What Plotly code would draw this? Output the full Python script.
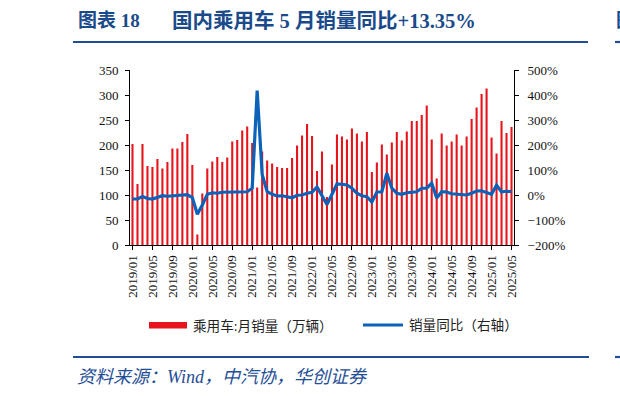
import plotly.graph_objects as go

months = [f"{y}/{m:02d}" for y in range(2019, 2026) for m in range(1, 13)][:77]

sales = [
    202, 122, 202, 158, 156, 172, 153, 166, 193, 193, 206, 222,   # 2019
    160, 21, 103, 153, 167, 176, 166, 175, 207, 210, 229, 237,    # 2020
    204, 115, 187, 169, 163, 156, 154, 154, 174, 199, 219, 242,   # 2021
    218, 148, 187, 96, 161, 221, 217, 211, 233, 223, 207, 226,    # 2022
    146, 165, 201, 181, 205, 226, 209, 227, 248, 248, 260, 279,   # 2023
    211, 133, 223, 199, 207, 221, 199, 217, 252, 275, 302, 313,   # 2024
    215, 183, 248, 224, 236,                                      # 2025
]

yoy = [
    -16, -16, -6, -14, -16, -8, -3, -5, -4, -3, -1, 1,
    -10, -77, -40, 3, 9, 7, 11, 11, 12, 12, 13, 13,
    27, 418, 82, 13, 3, -4, -3, -7, -11, -1, 0, 7,
    11, 32, 0, -38, 3, 44, 43, 40, 27, 7, -3, -7,
    -28, 12, 12, 87, 27, 7, 3, 9, 11, 13, 27, 27,
    47, -12, 13, 12, 5, 3, -1, 0, 7, 16, 17, 9,
    3, 39, 13, 15, 13.35,
]

tick_labels = months[::4]

W, H = 620, 397
L, R, T, B = 130, 514, 70, 245
PW, PH = R - L, B - T


def px(x):
    return (x - L) / PW


def py(y):
    return (B - y) / PH


BLUE_T = "#1A4A8A"
LINE_C = "#1F4E96"
SERIF = "Liberation Serif, Times New Roman, Noto Sans CJK SC"

fig = go.Figure()
fig.add_trace(go.Bar(
    x=months, y=sales, name="乘用车:月销量（万辆）",
    marker=dict(color="#E8141B", line=dict(width=0)),
    yaxis="y", showlegend=False, hoverinfo="skip",
))
fig.add_trace(go.Scatter(
    x=months, y=yoy, name="销量同比（右轴）", mode="lines",
    line=dict(color="#0B62B8", width=3.2),
    yaxis="y2", showlegend=False, hoverinfo="skip",
))

axis_font = dict(family=SERIF, size=13, color="#111")

fig.update_layout(
    width=W, height=H,
    margin=dict(l=L, r=W - R, t=T, b=H - B),
    paper_bgcolor="white", plot_bgcolor="white",
    bargap=0.58,
    showlegend=False,
    hovermode=False,
    xaxis=dict(
        type="category", range=[-0.5, 76.5],
        tickmode="array", tickvals=tick_labels, ticktext=tick_labels,
        tickangle=-90, tickfont=axis_font,
        showline=True, linecolor="#000", linewidth=1,
        ticks="outside", ticklen=4, tickcolor="#000",
        showgrid=False, zeroline=False,
    ),
    yaxis=dict(
        range=[0, 350], dtick=50, tick0=0,
        tickfont=axis_font,
        showline=True, linecolor="#000", linewidth=1,
        ticks="outside", ticklen=4, tickcolor="#000",
        showgrid=False, zeroline=False,
        ticklabelstandoff=4,
    ),
    yaxis2=dict(
        range=[-200, 500], dtick=100, tick0=0, ticksuffix="%",
        overlaying="y", side="right",
        tickfont=axis_font,
        showline=True, linecolor="#000", linewidth=1,
        ticks="outside", ticklen=4, tickcolor="#000",
        showgrid=False, zeroline=False,
        ticklabelstandoff=6,
    ),
)

shapes = []
for (x0, x1, y) in [(73, 588, 42), (615, 622, 42), (73, 589, 357), (615, 622, 357)]:
    shapes.append(dict(type="line", xref="paper", yref="paper",
                       x0=px(x0), x1=px(x1), y0=py(y), y1=py(y),
                       line=dict(color=LINE_C, width=2.2)))
# legend swatches
shapes.append(dict(type="rect", xref="paper", yref="paper",
                   x0=px(149), x1=px(187), y0=py(328.5), y1=py(322),
                   fillcolor="#E8141B", line=dict(width=0)))
shapes.append(dict(type="line", xref="paper", yref="paper",
                   x0=px(363), x1=px(403), y0=py(325), y1=py(325),
                   line=dict(color="#0B62B8", width=3.2)))

ann = []
ann.append(dict(text="<b>图表 18</b>", x=px(76), y=py(21), xref="paper", yref="paper",
                xanchor="left", yanchor="middle", showarrow=False,
                font=dict(family=SERIF, size=19, color=BLUE_T)))
ann.append(dict(text="<b>国内乘用车 5 月销量同比+13.35%</b>", x=px(170), y=py(21),
                xref="paper", yref="paper", xanchor="left", yanchor="middle", showarrow=False,
                font=dict(family=SERIF, size=20.5, color=BLUE_T)))
ann.append(dict(text="<b>图</b>", x=px(614), y=py(21), xref="paper", yref="paper",
                xanchor="left", yanchor="middle", showarrow=False,
                font=dict(family=SERIF, size=19, color=BLUE_T)))
ann.append(dict(text="乘用车:月销量（万辆）", x=px(191), y=py(325.5), xref="paper", yref="paper",
                xanchor="left", yanchor="middle", showarrow=False,
                font=dict(family=SERIF, size=13.6, color="#222")))
ann.append(dict(text="销量同比（右轴）", x=px(407), y=py(325.5), xref="paper", yref="paper",
                xanchor="left", yanchor="middle", showarrow=False,
                font=dict(family=SERIF, size=13.6, color="#222")))
ann.append(dict(text="<i>资料来源：Wind，中汽协，华创证券</i>", x=px(75), y=py(377),
                xref="paper", yref="paper", xanchor="left", yanchor="middle", showarrow=False,
                font=dict(family=SERIF, size=18, color=LINE_C)))

fig.update_layout(shapes=shapes, annotations=ann)
fig.write_html(
    "out.html",
    config={"displayModeBar": False, "staticPlot": True},
    post_script="document.body.style.margin='0';document.body.style.padding='0';",
)
